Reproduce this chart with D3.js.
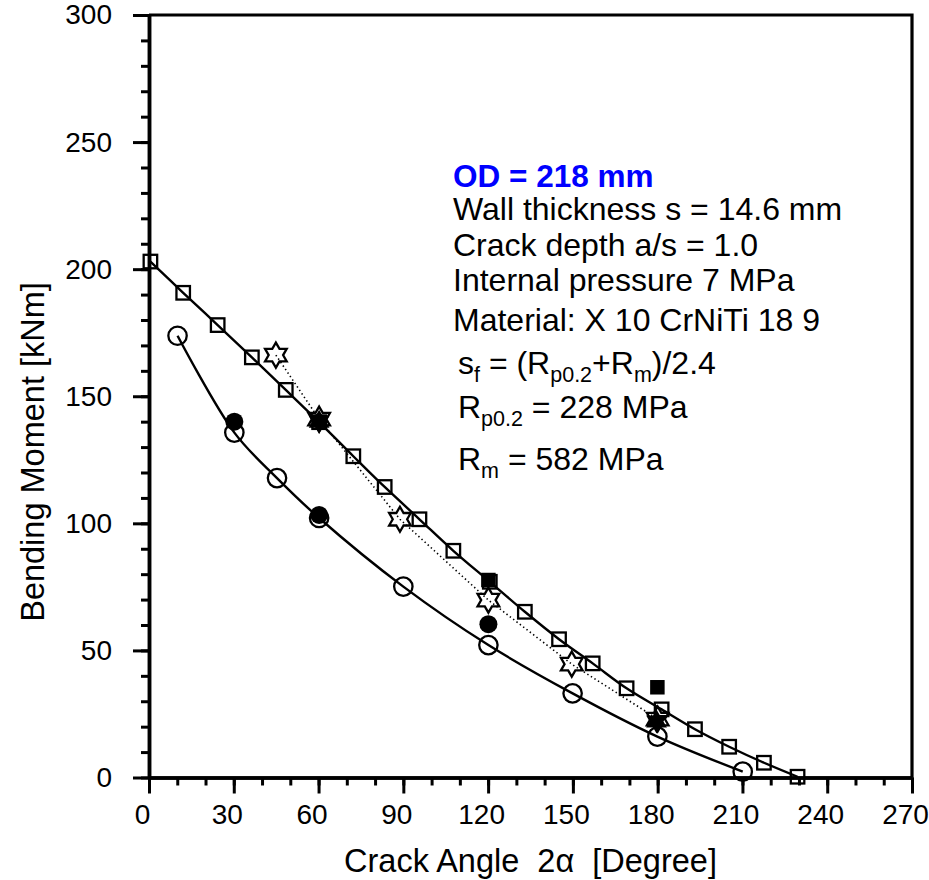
<!DOCTYPE html>
<html><head><meta charset="utf-8">
<script src="https://cdn.jsdelivr.net/npm/d3@7/dist/d3.min.js"></script>
<style>
body{margin:0;background:#fff}
text{font-family:Arial,"Liberation Sans",sans-serif;fill:#000}
</style>
</head><body>
<svg id="chart" width="929" height="880"></svg>
<script>
// ---- data ----
const xTickValues = [0, 30, 60, 90, 120, 150, 180, 210, 240, 270];
const yTickValues = [0, 50, 100, 150, 200, 250, 300];
const xMinorValues = d3.range(0, 271, 10);
const yMinorValues = d3.range(0, 301, 10);

const squareX = [0.5, 12.1, 24.3, 36.4, 48.4, 60.2, 72.3, 83.4, 95.7, 107.7, 120.6, 133.0, 145.1, 157.0, 169.0, 181.4, 193.2, 205.3, 217.6, 229.5];
const squareY = [203.0, 190.7, 178.0, 165.3, 152.5, 139.8, 126.4, 114.3, 101.6, 89.2, 77.0, 65.2, 54.4, 44.9, 35.1, 26.8, 19.0, 12.1, 5.8, 0.3];

const circleX = [10.1, 30.2, 45.3, 60.2, 90.0, 120.1, 149.9, 179.9, 210.1];
const circleY = [173.8, 135.7, 117.8, 102.1, 75.1, 52.1, 33.1, 16.1, 2.3];

const starX = [44.9, 60.2, 88.8, 120.1, 149.6, 180.0];
const starY = [166.2, 141.0, 101.6, 69.8, 44.6, 23.0];

const filledCircleX = [30.2, 60.2, 120.1];
const filledCircleY = [140.0, 103.3, 60.3];

const filledSquareX = [120.1, 179.9];
const filledSquareY = [77.7, 35.5];

const filledStarX = [60.2, 179.6];
const filledStarY = [140.0, 22.0];

const xTitle = "Crack Angle  2\u03b1  [Degree]";
const yTitle = "Bending Moment [kNm]";

// ---- layout ----
const svg = d3.select("#chart");
const x = d3.scaleLinear().domain([0, 270]).range([149, 912]);
const y = d3.scaleLinear().domain([0, 300]).range([777.5, 15]);

const zip = (a, b) => a.map((v, i) => [v, b[i]]);

// frame (top & right)
svg.append("path")
  .attr("d", `M${x(0)},${y(300)}H${x(270)}V${y(0)}`)
  .attr("fill", "none").attr("stroke", "#000").attr("stroke-width", 3.2);

// x axis
const gx = svg.append("g").attr("transform", `translate(0,${y(0)})`);
gx.append("g").call(d3.axisBottom(x).tickValues(xMinorValues).tickSize(8).tickSizeOuter(0).tickFormat(""));
gx.append("g").call(d3.axisBottom(x).tickValues(xTickValues).tickSize(16).tickSizeOuter(0).tickPadding(11));
gx.selectAll("path.domain").attr("stroke-width", 3.5);
gx.selectAll(".tick line").attr("stroke-width", 3);
gx.selectAll(".tick text").attr("font-size", 28).attr("dx", -7)
  .attr("font-family", "Arial, 'Liberation Sans', sans-serif");

// y axis
const gy = svg.append("g").attr("transform", `translate(${x(0)},0)`);
gy.append("g").call(d3.axisLeft(y).tickValues(yMinorValues).tickSize(8).tickSizeOuter(0).tickFormat(""));
gy.append("g").call(d3.axisLeft(y).tickValues(yTickValues).tickSize(16).tickSizeOuter(0).tickPadding(21));
gy.selectAll("path.domain").attr("stroke-width", 3.5);
gy.selectAll(".tick line").attr("stroke-width", 3);
gy.selectAll(".tick text").attr("font-size", 28)
  .attr("font-family", "Arial, 'Liberation Sans', sans-serif");

// titles
svg.append("text").attr("x", (x(0) + x(270)) / 2).attr("y", 872)
  .attr("text-anchor", "middle").attr("font-size", 32.5).style("white-space", "pre").text(xTitle);
svg.append("text").attr("transform", `translate(44,452) rotate(-90)`)
  .attr("text-anchor", "middle").attr("font-size", 32.5).text(yTitle);

// curves
const line = d3.line().x(d => x(d[0])).y(d => y(d[1])).curve(d3.curveCatmullRom.alpha(0.5));
svg.append("path").attr("d", line(zip(squareX, squareY)))
  .attr("fill", "none").attr("stroke", "#000").attr("stroke-width", 2.4);
svg.append("path").attr("d", line(zip(circleX, circleY)))
  .attr("fill", "none").attr("stroke", "#000").attr("stroke-width", 2.4);
const lineStraight = d3.line().x(d => x(d[0])).y(d => y(d[1]));
svg.append("path").attr("d", lineStraight(zip(starX, starY)))
  .attr("fill", "none").attr("stroke", "#000").attr("stroke-width", 1.6)
  .attr("stroke-dasharray", "1.4,2.8");

// markers
function hexagram(cx, cy, R) {
  const r = R / Math.sqrt(3);
  const pts = [];
  for (let k = 0; k < 12; k++) {
    const a = (-90 + k * 30) * Math.PI / 180;
    const rad = k % 2 === 0 ? R : r;
    pts.push([cx + rad * Math.cos(a), cy + rad * Math.sin(a)]);
  }
  return "M" + pts.map(p => p.join(",")).join("L") + "Z";
}

const sq = 13.5;
svg.append("g").selectAll("rect").data(zip(squareX, squareY)).join("rect")
  .attr("x", d => x(d[0]) - sq / 2).attr("y", d => y(d[1]) - sq / 2)
  .attr("width", sq).attr("height", sq)
  .attr("fill", "none").attr("stroke", "#000").attr("stroke-width", 2.3);

svg.append("g").selectAll("circle").data(zip(circleX, circleY)).join("circle")
  .attr("cx", d => x(d[0])).attr("cy", d => y(d[1])).attr("r", 9.2)
  .attr("fill", "none").attr("stroke", "#000").attr("stroke-width", 2.3);

svg.append("g").selectAll("path").data(zip(starX, starY)).join("path")
  .attr("d", d => hexagram(x(d[0]), y(d[1]), 12.5))
  .attr("fill", "none").attr("stroke", "#000").attr("stroke-width", 2.3).attr("stroke-linejoin", "miter");

svg.append("g").selectAll("circle").data(zip(filledCircleX, filledCircleY)).join("circle")
  .attr("cx", d => x(d[0])).attr("cy", d => y(d[1])).attr("r", 9).attr("fill", "#000");

const fsq = 14.5;
svg.append("g").selectAll("rect").data(zip(filledSquareX, filledSquareY)).join("rect")
  .attr("x", d => x(d[0]) - fsq / 2).attr("y", d => y(d[1]) - fsq / 2)
  .attr("width", fsq).attr("height", fsq).attr("fill", "#000");

svg.append("g").selectAll("path").data(zip(filledStarX, filledStarY)).join("path")
  .attr("d", d => hexagram(x(d[0]), y(d[1]), 12)).attr("fill", "#000");

// annotation text
const ann = svg.append("g").attr("font-size", 32);
ann.append("text").attr("x", 453).attr("y", 187).attr("font-weight", "bold").attr("font-size", 31.5)
  .style("fill", "#0000ff").text("OD = 218 mm");
ann.append("text").attr("x", 453).attr("y", 220).text("Wall thickness s = 14.6 mm");
ann.append("text").attr("x", 453).attr("y", 256).text("Crack depth a/s = 1.0");
ann.append("text").attr("x", 453).attr("y", 291).text("Internal pressure 7 MPa");
ann.append("text").attr("x", 453).attr("y", 331).text("Material: X 10 CrNiTi 18 9");

function richLine(yPos, parts) {
  const t = ann.append("text").attr("x", 458).attr("y", yPos).style("white-space", "pre");
  let sub = false;
  parts.forEach(p => {
    const ts = t.append("tspan").text(p.t);
    if (p.sub) { ts.attr("font-size", 21.5).attr("dy", 8); sub = true; }
    else if (sub) { ts.attr("dy", -8); sub = false; }
  });
}
richLine(374, [{t: "s"}, {t: "f", sub: true}, {t: " = (R"}, {t: "p0.2", sub: true}, {t: "+R"}, {t: "m", sub: true}, {t: ")/2.4"}]);
richLine(418, [{t: "R"}, {t: "p0.2", sub: true}, {t: " = 228 MPa"}]);
richLine(470, [{t: "R"}, {t: "m", sub: true}, {t: " = 582 MPa"}]);
</script>
</body></html>
